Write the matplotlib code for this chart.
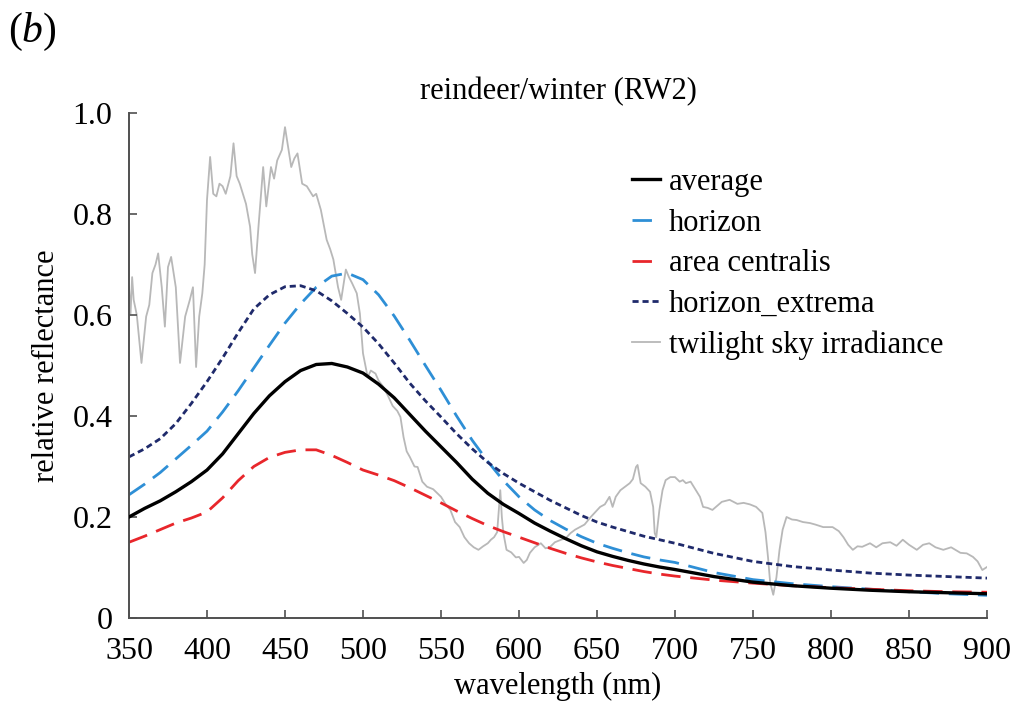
"""Reindeer/winter (RW2) reflectance curves against twilight sky irradiance."""
import matplotlib
matplotlib.use("Agg")
import matplotlib.pyplot as plt

plt.rcParams["font.family"] = ["Liberation Serif", "DejaVu Serif"]
plt.rcParams["mathtext.fontset"] = "custom"
plt.rcParams["mathtext.rm"] = "Liberation Serif"
plt.rcParams["mathtext.it"] = "Liberation Serif:italic"

# smooth curves share one wavelength grid
wl = [350, 360, 370, 380, 390, 400, 410, 420, 430, 440, 450, 460, 470, 480, 490,
      500, 510, 520, 530, 540, 550, 560, 570, 580, 590, 600, 610, 620, 630, 640,
      650, 660, 670, 680, 690, 700, 725, 750, 775, 800, 825, 850, 875, 900]

average = [.200, .217, .232, .250, .270, .293, .325, .365, .405, .440, .468, .490,
           .502, .504, .497, .485, .463, .436, .403, .370, .339, .308, .275, .247,
           .225, .207, .188, .172, .157, .143, .131, .122, .114, .107, .101, .096,
           .082, .071, .064, .059, .055, .052, .050, .048]

horizon = [.244, .265, .288, .315, .342, .370, .408, .450, .495, .540, .584, .622,
           .655, .677, .683, .670, .640, .598, .550, .500, .451, .400, .352, .310,
           .272, .240, .214, .193, .176, .161, .148, .138, .129, .121, .115, .110,
           .090, .076, .068, .062, .057, .052, .048, .045]

area_centralis = [.150, .162, .175, .188, .198, .210, .238, .272, .300, .318, .328,
                  .333, .333, .322, .308, .293, .283, .272, .258, .243, .228, .212,
                  .197, .183, .171, .160, .149, .138, .128, .119, .111, .104, .098,
                  .092, .087, .083, .075, .069, .064, .060, .057, .054, .052, .051]

horizon_extrema = [.319, .335, .355, .385, .425, .468, .515, .565, .612, .640, .656,
                   .658, .648, .628, .603, .576, .543, .505, .465, .430, .398, .365,
                   .335, .308, .286, .267, .250, .233, .218, .203, .190, .180, .171,
                   .162, .155, .148, .128, .112, .102, .095, .089, .085, .082, .079]

# twilight sky irradiance
sky_wl = [350, 351, 352, 353, 355, 358, 361, 363, 365, 367, 368.7, 371, 373, 375, 377,
          380, 382.7, 386, 389, 391, 393, 395, 397, 398.5, 400, 402, 404, 406, 408,
          410, 412, 415, 417, 419, 421, 423, 425, 427.6, 429, 430.8, 433, 436, 438,
          441, 443, 445, 448, 450, 452, 454, 456, 458, 461, 464, 468, 470, 473,
          476.7, 479, 481, 484, 486, 489, 491, 493, 496, 498, 500, 503, 505, 508,
          510, 513, 516, 519, 522, 524, 526, 528, 530, 533, 535, 538, 541, 545, 550,
          553, 556, 559, 562, 565, 568, 571, 574, 577, 580, 582, 584, 586, 588, 589,
          590, 592, 595, 598, 600, 603, 605, 607, 610, 614, 617, 620, 623, 627, 630,
          633, 636, 639, 642, 646, 649, 652, 655, 658, 660, 662, 665, 668, 671, 673,
          675, 676, 678, 681, 684, 686, 687, 688, 690, 692, 694, 697, 700, 703, 705,
          707, 710, 713, 716, 718, 721, 724, 727, 730, 735, 740, 744, 748, 752, 756,
          758, 759.6, 761, 763, 765, 767, 769, 771.5, 775, 778, 782, 786.5, 790, 795,
          801, 805, 808, 811, 814, 817, 820, 825, 829, 833, 838, 842, 846, 850, 855,
          859, 863, 867, 872, 877, 883, 887, 891, 894, 897, 900]

sky = [.655, .603, .675, .630, .600, .505, .597, .620, .683, .700, .722, .655, .577,
       .695, .715, .655, .505, .597, .630, .655, .497, .597, .643, .700, .828, .913,
       .840, .835, .860, .855, .840, .875, .940, .875, .860, .840, .820, .775, .720,
       .683, .775, .893, .815, .893, .870, .906, .927, .972, .933, .893, .910, .920,
       .860, .855, .835, .840, .808, .749, .730, .710, .655, .630, .690, .675, .663,
       .643, .603, .524, .477, .490, .484, .470, .458, .440, .420, .410, .398, .358,
       .330, .319, .300, .299, .270, .260, .255, .240, .225, .214, .190, .180, .160,
       .148, .140, .135, .142, .148, .155, .160, .170, .253, .200, .168, .135, .130,
       .120, .121, .109, .115, .129, .140, .148, .138, .141, .150, .155, .158, .168,
       .175, .180, .185, .200, .210, .220, .225, .240, .220, .240, .253, .260, .267,
       .275, .299, .303, .267, .260, .250, .220, .168, .160, .214, .253, .273, .279,
       .279, .270, .273, .267, .270, .255, .240, .220, .218, .214, .222, .230, .234,
       .226, .228, .225, .220, .208, .170, .121, .070, .046, .080, .135, .175, .200,
       .195, .194, .190, .188, .185, .180, .180, .172, .160, .145, .135, .142, .141,
       .148, .140, .148, .150, .143, .155, .145, .135, .145, .148, .140, .135, .140,
       .129, .128, .121, .112, .095, .101]

x_ticks = [350, 400, 450, 500, 550, 600, 650, 700, 750, 800, 850, 900]
y_ticks = [0, 0.2, 0.4, 0.6, 0.8, 1.0]
y_tick_labels = ["0", "0.2", "0.4", "0.6", "0.8", "1.0"]

fig = plt.figure(figsize=(10.26, 7.07), dpi=100)
ax = fig.add_axes([129 / 1026, 1 - 618 / 707, (987 - 129) / 1026, (618 - 113) / 707])

ax.plot(sky_wl, sky, color="#b8b8b8", lw=1.3, label="twilight sky irradiance", zorder=1)
ax.plot(wl, average, color="black", lw=2.4, label="average", zorder=3)
ax.plot(wl, horizon, color="#2e8fd6", lw=2.0, dashes=(7, 3.5), label="horizon", zorder=2)
ax.plot(wl, area_centralis, color="#e8262b", lw=2.0, dashes=(7, 3.5),
        label="area centralis", zorder=2)
ax.plot(wl, horizon_extrema, color="#1f2a6b", lw=2.0, dashes=(2.2, 1.4),
        label="horizon_extrema", zorder=2)

ax.set_xlim(350, 900)
ax.set_ylim(0, 1.0)
ax.set_xticks(x_ticks)
ax.set_yticks(y_ticks)
ax.set_yticklabels(y_tick_labels)
for side in ("top", "right"):
    ax.spines[side].set_visible(False)
for side in ("left", "bottom"):
    ax.spines[side].set_color("#505050")
    ax.spines[side].set_linewidth(1.4)
ax.tick_params(direction="in", length=6, width=1.2, color="#505050", labelsize=23)
ax.tick_params(axis="x", pad=14)
ax.tick_params(axis="y", pad=12)

ax.set_xlabel("wavelength (nm)", fontsize=22, labelpad=4)
ax.set_ylabel("relative reflectance", fontsize=22, labelpad=8)
ax.set_title("reindeer/winter (RW2)", fontsize=22, pad=10)

handles, labels = ax.get_legend_handles_labels()
order = ["average", "horizon", "area centralis", "horizon_extrema", "twilight sky irradiance"]
hmap = dict(zip(labels, handles))
ax.legend([hmap[k] for k in order], order, loc="upper left",
          bbox_to_anchor=(632 / 1026, 1 - 168 / 707), bbox_transform=fig.transFigure,
          frameon=False, fontsize=22, handlelength=0.9, handletextpad=0.3,
          labelspacing=0.38, borderpad=0, borderaxespad=0)

fig.text(0.008, 0.985, r"($\mathit{b}$)", fontsize=30, va="top", ha="left")

fig.savefig("out.png", dpi=100)
